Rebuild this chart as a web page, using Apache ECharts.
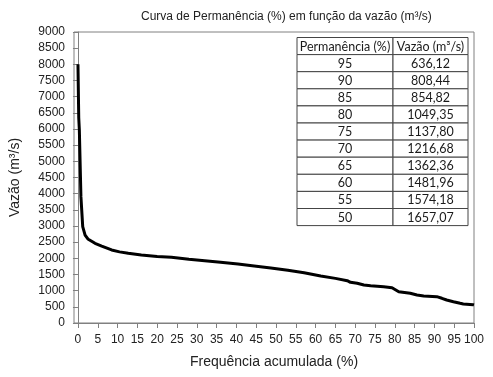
<!DOCTYPE html>
<html>
<head>
<meta charset="utf-8">
<script src="https://cdn.jsdelivr.net/npm/echarts@6/dist/echarts.min.js"></script>
<style>
  html, body { margin: 0; padding: 0; background: #fff; }
  #chart { width: 493px; height: 377px; }
</style>
</head>
<body>
<div id="chart"></div>
<script>
// curva de permanência: frequência acumulada (%) x vazão (m³/s)
var freq = [0, 0.2, 0.35, 0.75, 1.2, 1.8, 2.5, 4.3, 6, 8.5, 10.5, 12.7, 16, 20, 23.6, 28, 32, 36, 40.4, 44.5, 48.7, 53, 57.1, 61.3, 65, 68, 68.8, 70.5, 72.2, 73.9, 77.2, 79.3, 81, 81.4, 83.9, 85.6, 87.3, 90.6, 91.9, 93.1, 94.8, 96.5, 97.3, 99.8, 100];
var vazao = [8000, 6340, 5970, 3900, 2980, 2720, 2600, 2465, 2380, 2260, 2200, 2155, 2100, 2060, 2032, 1975, 1927, 1880, 1825, 1765, 1701, 1630, 1556, 1454, 1380, 1308, 1259, 1228, 1175, 1154, 1123, 1092, 968, 959, 918, 866, 835, 814, 764, 711, 659, 609, 588, 566, 560];

// tabela
var tabelaCabecalho = ["Permanência (%)", "Vazão (m³/s)"];
var permanencia = ["95", "90", "85", "80", "75", "70", "65", "60", "55", "50"];
var vazaoTabela = ["636,12", "808,44", "854,82", "1049,35", "1137,80", "1216,68", "1362,36", "1481,96", "1574,18", "1657,07"];

// ticks do eixo x
var xTicks = [];
for (var t = 0; t <= 100; t += 5) xTicks.push(t);

var chart = echarts.init(document.getElementById("chart"));

function buildTable() {
  var x0 = 297, x1 = 393, x2 = 468, top = 37.5, h = 17.1;
  var rows = [tabelaCabecalho].concat(permanencia.map(function (p, i) { return [p, vazaoTabela[i]]; }));
  var els = [];
  rows.forEach(function (r, i) {
    var y = top + i * h;
    [[x0, x1, r[0]], [x1, x2, r[1]]].forEach(function (c) {
      els.push({
        type: "rect",
        shape: { x: c[0], y: y, width: c[1] - c[0], height: h },
        style: { fill: "#fff", stroke: "#444", lineWidth: 1 },
        z: 10
      });
      els.push({
        type: "text",
        x: (c[0] + c[1]) / 2,
        y: y + h / 2 + 0.5,
        style: {
          text: c[2],
          align: "center",
          verticalAlign: "middle",
          fontFamily: "Lato",
          fontSize: 12.5,
          fill: "#1a1a1a"
        },
        z: 11
      });
    });
  });
  return els;
}

var option = {
  animation: false,
  title: {
    text: "Curva de Permanência (%) em função da vazão (m³/s)",
    left: 136,
    top: 6,
    textStyle: { fontFamily: "Liberation Sans", fontSize: 12, fontWeight: "normal", color: "#222" }
  },
  grid: {
    left: 72, right: 19, top: 32, bottom: 54,
    show: true, borderColor: "#808080", borderWidth: 1
  },
  xAxis: {
    type: "value",
    min: -1,
    max: 100,
    name: "Frequência acumulada (%)",
    nameLocation: "middle",
    nameGap: 32,
    nameTextStyle: { fontFamily: "Liberation Sans", fontSize: 14, color: "#222" },
    axisLine: { lineStyle: { color: "#808080" } },
    axisTick: { show: true, length: 5, customValues: xTicks, lineStyle: { color: "#808080" } },
    axisLabel: { customValues: xTicks, fontFamily: "Liberation Sans", fontSize: 12, color: "#222", margin: 11 },
    splitLine: { show: false }
  },
  yAxis: {
    type: "value",
    min: 0,
    max: 9000,
    interval: 500,
    name: "Vazão (m³/s)",
    nameLocation: "middle",
    nameGap: 52,
    nameRotate: 90,
    nameTextStyle: { fontFamily: "Liberation Sans", fontSize: 14, color: "#222" },
    axisLine: { show: true, lineStyle: { color: "#808080" } },
    axisTick: { show: true, length: 5, lineStyle: { color: "#808080" } },
    axisLabel: {
      fontFamily: "Liberation Sans", fontSize: 12, color: "#222", margin: 9,
      formatter: function (v) { return String(v); }
    },
    splitLine: { show: false }
  },
  series: [
    {
      type: "line",
      data: freq.map(function (f, i) { return [f, vazao[i]]; }),
      showSymbol: false,
      lineStyle: { color: "#000", width: 3 },
      z: 5
    }
  ],
  graphic: buildTable()
};

chart.setOption(option);
</script>
</body>
</html>
